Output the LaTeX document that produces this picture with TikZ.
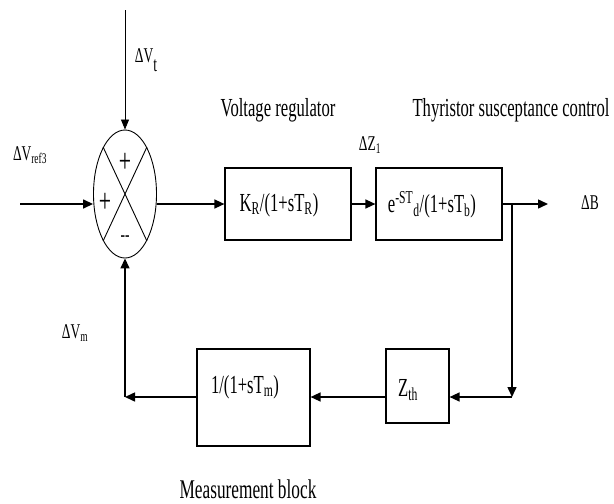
\documentclass[tikz,border=0pt]{standalone}
\usepackage{fontspec}
\setmainfont{Liberation Serif}[FakeStretch=0.64]
\usetikzlibrary{shapes.geometric,arrows.meta}
\begin{document}
\begin{tikzpicture}[x=1pt,y=-1pt,
  conn/.style={line width=1.5pt,-{Triangle[length=10pt,width=9pt]}},
  blk/.style={draw,line width=1.2pt,rectangle,inner sep=0},
  lbl/.style={inner sep=0,font=\fontsize{26}{28}\selectfont},
  big/.style={inner sep=0,font=\fontsize{27}{29}\selectfont},
  sgn/.style={inner sep=0,font=\fontsize{34}{36}\selectfont},
  sml/.style={inner sep=0,font=\fontsize{21}{23}\selectfont}]
\useasboundingbox (0,0) rectangle (614,504);
% summing junction
\node[draw,ellipse,line width=0.9pt,minimum width=63pt,minimum height=128pt,inner sep=0] (sum) at (125,194) {};
\draw[line width=0.9pt] (sum.115) -- (sum.-65);
\draw[line width=0.9pt] (sum.65) -- (sum.-115);
\node[sgn] (pt) at (125,163) {+};
\node[sgn] (pl) at (105,203) {+};
\node[sml] (mn) at (125,239) {-{}-};
% blocks
\node[blk,minimum width=126pt,minimum height=72pt] (b1) at (288,204) {};
\node[lbl] (t1) at (279,205) {K\textsubscript{R}/(1+sT\textsubscript{R})};
\node[blk,minimum width=126pt,minimum height=72pt] (b2) at (439,204) {};
\node[lbl] (t2) at (432,205) {e\textsuperscript{-ST}\textsubscript{d}/(1+sT\textsubscript{b})};
\node[blk,minimum width=113pt,minimum height=97pt] (b3) at (253.5,397.5) {};
\node[lbl] (t3) at (245,387) {1/(1+sT\textsubscript{m})};
\node[blk,minimum width=63pt,minimum height=74pt] (b4) at (417.5,386) {};
\node[lbl] (t4) at (408,390) {Z\textsubscript{th}};
% coordinates
\coordinate (vt) at (125,10);
\coordinate (vin) at (20,204);
\coordinate (vout) at (548,204);
\coordinate (br) at (512,204);
\coordinate (c1) at (512,397);
\coordinate (c2) at (125,397);
% connectors
\draw[line width=0.8pt,-{Triangle[length=10pt,width=8pt]}] (vt) -- (sum.north);
\draw[conn] (vin) -- (vin -| sum.west);
\draw[conn] (sum.east |- vin) -- (b1.west);
\draw[conn] (b1) -- (b2);
\draw[conn] (b2) -- (vout);
\draw[conn] (br) -- (c1);
\draw[conn] (c1) -- (b4.east |- c1);
\draw[conn] (b4.west |- c1) -- (b3.east |- c1);
\draw[conn] (b3.west |- c1) -- (c2);
\draw[conn] (c2) -- (sum.south);
% labels
\node[sml] (lvt) at (146,60) {ΔV\raisebox{-0.45em}{t}};
\node[sml] (lvr) at (30,155) {ΔV\textsubscript{ref3}};
\node[sml] (lz) at (370,145) {ΔZ\textsubscript{1}};
\node[sml] (lb) at (590,203) {ΔB};
\node[sml] (lvm) at (75,333) {ΔV\textsubscript{m}};
\node[lbl] (lvreg) at (278,110) {Voltage regulator};
\node[lbl] (lthy) at (511,110) {Thyristor susceptance control};
\node[big] (lmeas) at (248,489) {Measurement block};
\end{tikzpicture}
\end{document}
